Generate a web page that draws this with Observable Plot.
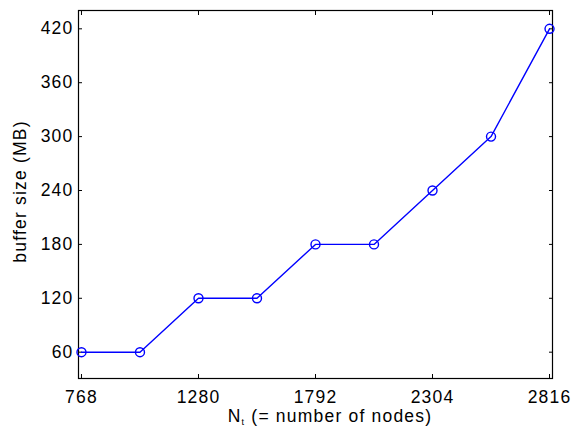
<!DOCTYPE html>
<html>
<head>
<meta charset="utf-8">
<script src="https://cdn.jsdelivr.net/npm/d3@7"></script>
<script src="https://cdn.jsdelivr.net/npm/@observablehq/plot@0.6"></script>
<style>
  html, body { margin: 0; padding: 0; background: #fff; }
  #chart text { letter-spacing: 1.2px; }
</style>
</head>
<body>
<div id="chart"></div>
<script>
const nodes = [768, 1024, 1280, 1536, 1792, 2048, 2304, 2560, 2816];
const bufferMB = [60, 60, 120, 120, 180, 180, 240, 300, 420];
const xTicks = [768, 1280, 1792, 2304, 2816];
const yTicks = [60, 120, 180, 240, 300, 360, 420];
const yTitle = "buffer size (MB)";
const xTitleMain = "N";
const xTitleSub = "t";
const xTitleRest = " (= number of nodes)";

const data = nodes.map((n, i) => ({n, b: bufferMB[i]}));
const blank = () => "";
const plain = d => String(d);
const FS = 17.5;

const chart = Plot.plot({
  width: 574,
  height: 431,
  marginLeft: 78,
  marginRight: 22,
  marginTop: 10,
  marginBottom: 53,
  style: {fontFamily: "'Liberation Sans', Arial, sans-serif", fontSize: FS + "px", background: "white", color: "black"},
  x: {domain: [755, 2829], label: null},
  y: {domain: [30.7, 440.4], label: null},
  marks: [
    Plot.axisX(xTicks, {anchor: "bottom", tickSize: 0, tickPadding: 12, fontSize: FS, tickFormat: plain, label: null}),
    Plot.axisX(xTicks, {anchor: "bottom", tickSize: -4, tickFormat: blank, label: null}),
    Plot.axisX(xTicks, {anchor: "top", tickSize: -4, tickFormat: blank, label: null}),
    Plot.axisY(yTicks, {anchor: "left", tickSize: 0, tickPadding: 5, fontSize: FS, tickFormat: plain, label: null}),
    Plot.axisY(yTicks, {anchor: "left", tickSize: -4, tickFormat: blank, label: null}),
    Plot.axisY(yTicks, {anchor: "right", tickSize: -4, tickFormat: blank, label: null}),
    Plot.frame({stroke: "black", strokeWidth: 1.2}),
    Plot.line(data, {x: "n", y: "b", stroke: "#0000ff", strokeWidth: 1.4}),
    Plot.dot(data, {x: "n", y: "b", r: 4.5, stroke: "#0000ff", strokeWidth: 1.4, fill: "none"}),
    Plot.text([yTitle], {frameAnchor: "left", textAnchor: "middle", dx: -58, dy: -3, rotate: -90, fontSize: FS, text: d => d})
  ]
});
document.getElementById("chart").appendChild(chart);

// x-axis title with subscript, drawn as real SVG text
const t = d3.select(chart).append("text")
  .attr("x", 330).attr("y", 422)
  .attr("text-anchor", "middle")
  .attr("font-size", FS)
  .attr("fill", "black");
t.append("tspan").text(xTitleMain);
t.append("tspan").attr("font-size", 9).attr("dy", 3).text(xTitleSub);
t.append("tspan").attr("dy", -3).text(xTitleRest);
</script>
</body>
</html>
